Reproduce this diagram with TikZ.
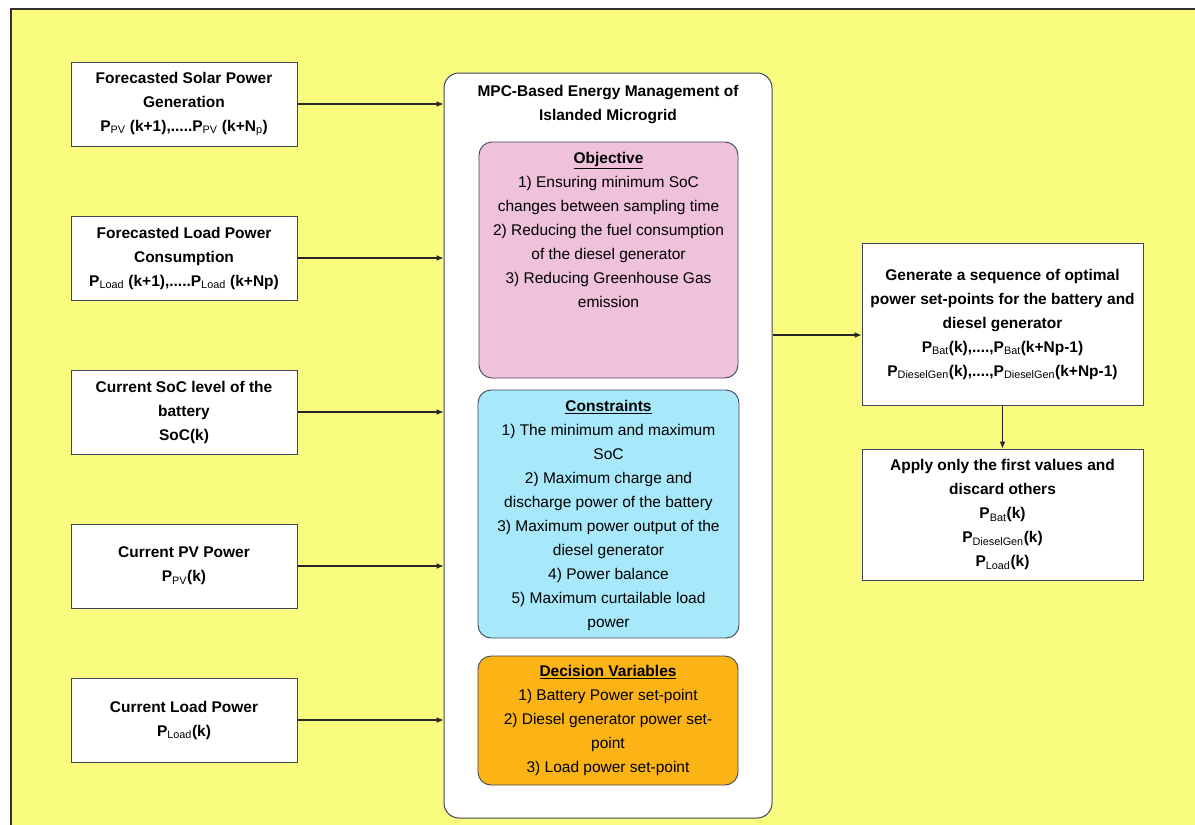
\documentclass[tikz,border=0pt]{standalone}
\usepackage{fontspec}
\setmainfont{Liberation Sans}
\usetikzlibrary{arrows.meta}
\definecolor{bgyellow}{HTML}{FAFC7F}
\definecolor{objpink}{HTML}{EFC1DB}
\definecolor{concyan}{HTML}{A7E9FA}
\definecolor{decorange}{HTML}{FBB316}
\definecolor{edgeslate}{HTML}{3E4658}
\newcommand{\mysub}[1]{\textsubscript{\mdseries #1}}
\tikzset{
  every node/.style={font=\fontsize{15.5}{24}\selectfont},
  inbox/.style={draw=edgeslate, line width=1pt, fill=white, align=center,
    minimum width=226pt, minimum height=84pt, inner sep=2pt, font=\fontsize{15.5}{24}\selectfont\bfseries},
  outbox/.style={draw=edgeslate, line width=1pt, fill=white, align=center,
    minimum width=281pt, inner sep=2pt, font=\fontsize{15.5}{24}\selectfont\bfseries},
  mainbox/.style={draw=edgeslate, line width=1pt, fill=white, rounded corners=15pt,
    minimum width=328pt, minimum height=745pt},
  innerbox/.style={draw=edgeslate, line width=0.9pt, rounded corners=13pt},
  itemtext/.style={align=center, inner sep=0pt, anchor=north},
  arr/.style={line width=1.1pt, draw=black!85, -{Latex[length=7pt,width=6pt]}}
}
\begin{document}
\begin{tikzpicture}[x=1pt,y=-1pt]
\useasboundingbox (0,0) rectangle (1195,825);
\begin{scope}
\clip (0,0) rectangle (1195,825);
\fill[bgyellow] (11,9) rectangle (1210,840);
\draw[line width=2.5pt, draw=black!80] (11,840) -- (11,9) -- (1210,9);
\end{scope}

% input boxes
\node[inbox] (in1) at (184,104) {Forecasted Solar Power\\Generation\\P\mysub{PV} (k+1),.....P\mysub{PV} (k+N\mysub{p})};
\node[inbox] (in2) at (184,258) {Forecasted Load Power\\Consumption\\P\mysub{Load} (k+1),.....P\mysub{Load} (k+Np)};
\node[inbox] (in3) at (184,412) {Current SoC level of the\\battery\\SoC(k)};
\node[inbox] (in4) at (184,566) {Current PV Power\\P\mysub{PV}(k)};
\node[inbox] (in5) at (184,720) {Current Load Power\\P\mysub{Load}(k)};

% main box
\node[mainbox] (main) at (608,445.5) {};
\node[itemtext, font=\fontsize{15.5}{24}\selectfont\bfseries] (title) at (608,85) {MPC-Based Energy Management of\\Islanded Microgrid};

\node[innerbox, fill=objpink, minimum width=259pt, minimum height=236pt] (obj) at (608.5,260) {};
\node[itemtext] (objtxt) at (608.5,152) {\textbf{\underline{Objective}}\\1) Ensuring minimum SoC\\changes between sampling time\\2) Reducing the fuel consumption\\of the diesel generator\\3) Reducing Greenhouse Gas\\emission};

\node[innerbox, fill=concyan, minimum width=261pt, minimum height=248pt] (con) at (608.5,514) {};
\node[itemtext] (context) at (608.5,400) {\textbf{\underline{Constraints}}\\1) The minimum and maximum\\SoC\\2) Maximum charge and\\discharge power of the battery\\3) Maximum power output of the\\diesel generator\\4) Power balance\\5) Maximum curtailable load\\power};

\node[innerbox, fill=decorange, minimum width=260pt, minimum height=129pt] (dec) at (608,720.5) {};
\node[itemtext] (dectext) at (608,665) {\textbf{\underline{Decision Variables}}\\1) Battery Power set-point\\2) Diesel generator power set-\\point\\3) Load power set-point};

% output boxes
\node[outbox, minimum height=162pt] (out1) at (1002.5,324) {Generate a sequence of optimal\\power set-points for the battery and\\diesel generator\\P\mysub{Bat}(k),....,P\mysub{Bat}(k+Np-1)\\P\mysub{DieselGen}(k),....,P\mysub{DieselGen}(k+Np-1)};
\node[outbox, minimum height=131pt] (out2) at (1002.5,514.5) {Apply only the first values and\\discard others\\P\mysub{Bat}(k)\\P\mysub{DieselGen}(k)\\P\mysub{Load}(k)};

% connectors
\foreach \n in {in1,in2,in3,in4,in5}
  \draw[arr] (\n.east) -- (\n.east -| main.west);
\coordinate (outin) at ([yshift=-11pt]out1.west);
\draw[arr] (main.east |- outin) -- (outin);
\draw[arr] (out1.south) -- (out2.north);
\end{tikzpicture}
\end{document}
